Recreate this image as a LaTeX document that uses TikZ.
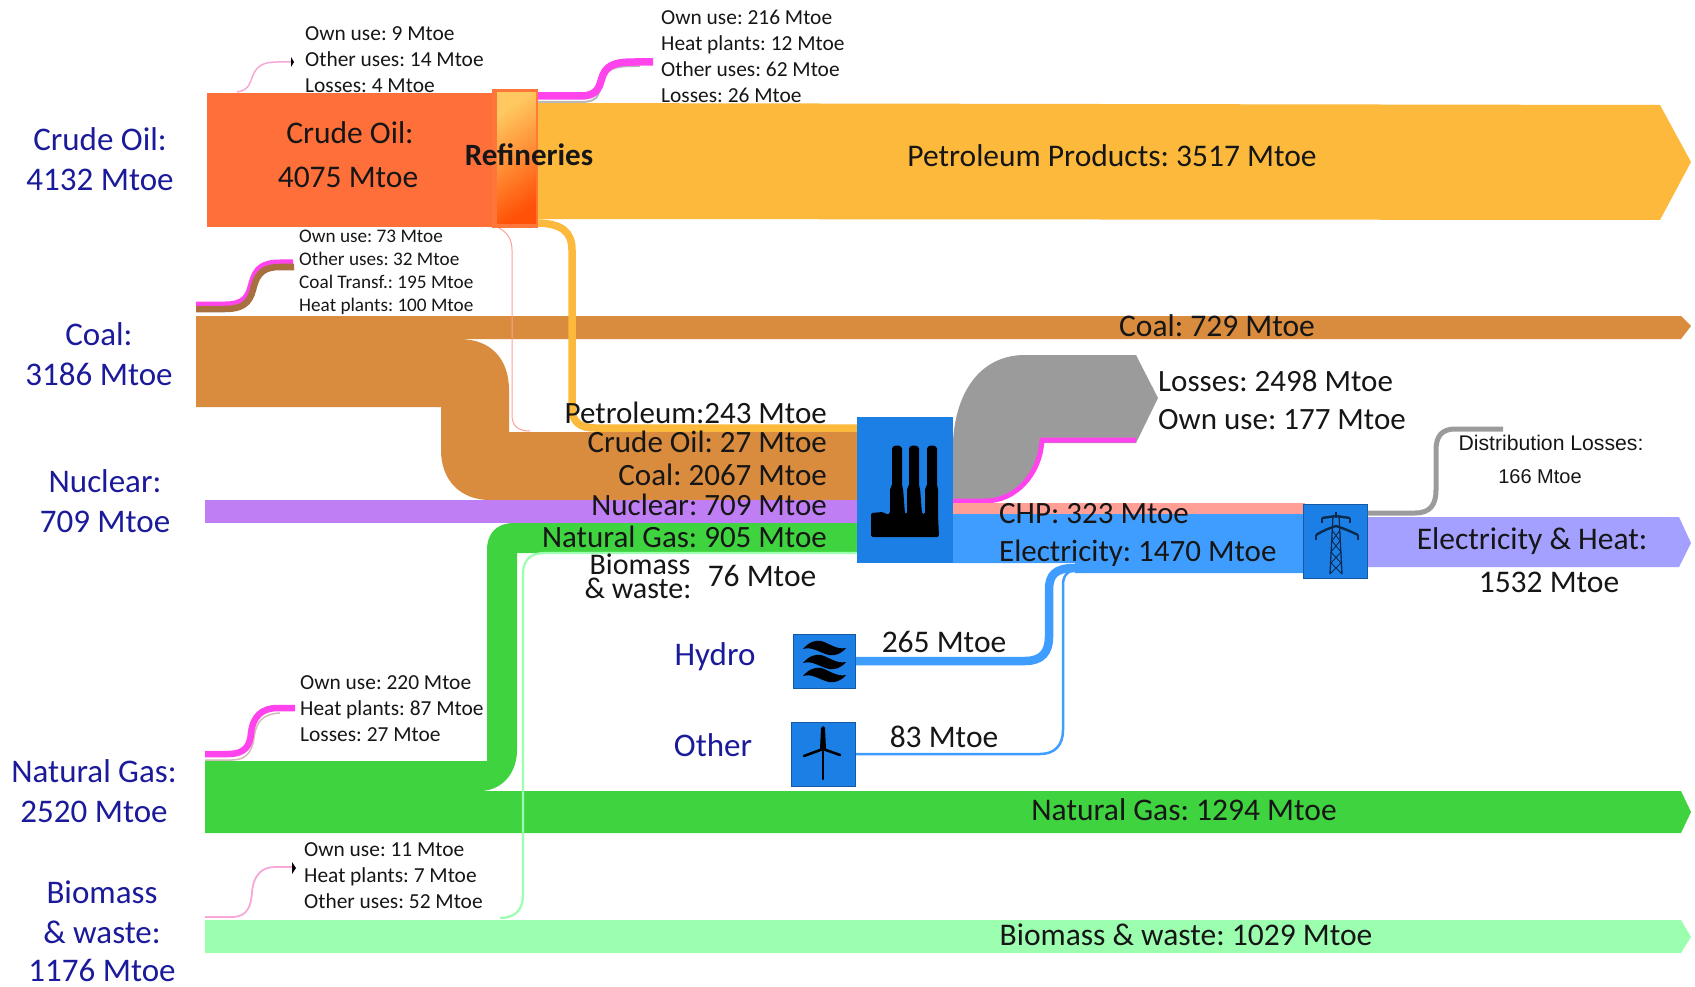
\documentclass[tikz,border=0pt]{standalone}
\usepackage{fontspec}
\setmainfont{Carlito}
\newfontfamily\arialf{Liberation Sans}
\definecolor{crude}{HTML}{FF6F3A}
\definecolor{petro}{HTML}{FDB93C}
\definecolor{coal}{HTML}{D98B3E}
\definecolor{nuke}{HTML}{C07EF5}
\definecolor{gas}{HTML}{3FD43F}
\definecolor{bio}{HTML}{9CFFB0}
\definecolor{boxblue}{HTML}{1C7FE6}
\definecolor{elec}{HTML}{3F9DFF}
\definecolor{heat}{HTML}{A3A0FF}
\definecolor{chp}{HTML}{FF9F96}
\definecolor{magenta2}{HTML}{FF44EE}
\definecolor{greyf}{HTML}{9B9B9B}
\definecolor{navy2}{HTML}{1A1A9A}
\definecolor{ink}{HTML}{161616}
\definecolor{brown2}{HTML}{A8703E}
\definecolor{thinpink}{HTML}{F7A8D8}
\definecolor{pylonink}{HTML}{0C2A50}
\definecolor{refa}{HTML}{FFC860}
\definecolor{refb}{HTML}{FF9A38}
\definecolor{refc}{HTML}{FF5208}
\tikzset{
  srclabel/.style={anchor=mid,yshift=-8pt,text=navy2,font=\fontsize{33}{33}\selectfont,inner sep=0pt},
  flowlabel/.style={anchor=mid,yshift=-8pt,text=ink,font=\fontsize{31.5}{31.5}\selectfont,inner sep=0pt},
  midlabel/.style={anchor=mid east,yshift=-8pt,text=ink,font=\fontsize{31}{31}\selectfont,inner sep=0pt},
  sidelabel/.style={anchor=mid west,yshift=-8pt,text=ink,font=\fontsize{31}{31}\selectfont,inner sep=0pt},
  smalllabel/.style={anchor=mid west,yshift=-5.5pt,text=ink,font=\fontsize{21.4}{21.4}\selectfont,inner sep=0pt},
  tinylabel/.style={anchor=mid west,yshift=-5pt,text=ink,font=\fontsize{19.2}{19.2}\selectfont,inner sep=0pt},
  iconbox/.style={draw=boxblue!70!black,line width=0.8pt,fill=boxblue,inner sep=0pt,anchor=north west},
}
\begin{document}
\frenchspacing
\begin{tikzpicture}[x=1pt,y=-1pt]
\useasboundingbox (0,0) rectangle (1695,987);
% Petroleum products
\fill[petro] (538,103) -- (1660,105) -- (1691,162) -- (1660,220) -- (538,219) -- cycle;
% Coal bar
\fill[coal] (196,316) -- (1681,316) -- (1691,326) -- (1681,339) -- (196,339) -- cycle;
% Coal flow to plant
\fill[coal] (196,339) -- (459,339) .. controls (490,339) and (509,358) .. (509,390) -- (509,432) -- (860,432) -- (860,500) -- (490,500) .. controls (460,500) and (441,480) .. (441,450) -- (441,407) -- (196,407) -- cycle;
% Nuclear
\fill[nuke] (205,500) rectangle (860,523);
% Gas
\fill[gas] (205,761) -- (487,761) -- (487,550) .. controls (487,533) and (497,523) .. (514,523) -- (860,523) -- (860,553) -- (517,553) -- (517,750) .. controls (517,775) and (500,791) .. (480,791) -- (1681,791) -- (1691,812) -- (1681,833) -- (205,833) -- cycle;
% Biomass
\fill[bio] (205,920) -- (1681,920) -- (1691,937) -- (1681,953) -- (205,953) -- cycle;
\draw[bio,line width=2.2pt] (500,918) .. controls (515,918) and (523,910) .. (523,895) -- (523,575) .. controls (523,560) and (530,553) .. (545,553) -- (860,553);
% Thin crude line
\draw[chp,line width=1pt] (497,227) .. controls (508,232) and (512,240) .. (512,250) -- (512,415) .. controls (512,426) and (518,431) .. (530,431);
% Petroleum to plant
\draw[petro,line width=7.5pt] (535,223) .. controls (562,223) and (572,232) .. (572,250) -- (572,408) .. controls (572,422) and (580,428) .. (595,428) -- (860,428);
\fill[crude] (207,93) rectangle (497,227);
% Refinery
\node[draw=none,fill=crude!90!petro,minimum width=46pt,minimum height=139pt,inner sep=0pt] (refinery) at (515,158.5) {};
\path[shading=axis,left color=refa,middle color=refb,right color=refc,shading angle=35] (497,93) rectangle (536,224);
% magenta top
\draw[gray!55,line width=2pt] (538,102) -- (580,102) .. controls (603,102) and (597,92) .. (603,78) .. controls (608,66) and (622,66) .. (640,66);
\draw[magenta2,line width=7.5pt] (538,96) -- (580,96) .. controls (600,96) and (599,85) .. (603,75) .. controls (608,63) and (620,62) .. (635,62) -- (653,62);
% thin crude use
\draw[thinpink,line width=1.5pt] (237,92) .. controls (250,90) and (250,82) .. (253,75) .. controls (258,63) and (268,62) .. (278,62) -- (292,62);
\fill[black] (291,57) -- (294,62) -- (291,67) -- cycle;
% coal use
\draw[magenta2,line width=5pt] (196,304) -- (225,304) .. controls (245,304) and (248,295) .. (251,283) .. controls (255,268) and (262,262) .. (280,262) -- (293,262);
\draw[brown2,line width=6.5pt] (196,309) -- (225,309) .. controls (248,309) and (251,298) .. (254,286) .. controls (258,272) and (265,267) .. (280,267) -- (294,267);
% gas use
\draw[chp!40!gray!60,line width=1.5pt] (205,760) -- (232,760) .. controls (246,760) and (252,752) .. (254,738) .. controls (256,722) and (262,714) .. (280,713);
\draw[magenta2,line width=6.5pt] (205,754) -- (228,754) .. controls (246,754) and (250,745) .. (251,733) .. controls (253,716) and (262,708) .. (278,708) -- (295,708);
% biomass use
\draw[thinpink,line width=1.8pt] (205,917) -- (232,917) .. controls (248,917) and (251,905) .. (252,893) .. controls (253,875) and (262,867) .. (275,867) -- (292,867);
\fill[black] (292,862) -- (296,868) -- (292,874) -- cycle;
% Grey losses
\fill[greyf] (953,502) -- (953,440) .. controls (957,385) and (985,355) .. (1025,355) -- (1136,355) -- (1158,398) -- (1136,443) -- (1042,443) .. controls (1040,475) and (1015,500) .. (985,500) -- cycle;
\draw[magenta2,line width=5pt] (1136,440) -- (1042,440) .. controls (1040,475) and (1015,501) .. (985,501) -- (953,501);
% CHP and electricity
\fill[chp] (953,503) rectangle (1305,514);
\fill[elec] (953,514) -- (1305,514) -- (1305,573) -- (1075,573) -- (1075,563) -- (953,563) -- cycle;
% Heat arrow
\fill[heat] (1367,517) -- (1679,517) -- (1691,543) -- (1679,567) -- (1367,567) -- cycle;
% Icon boxes
\node[iconbox,minimum width=96pt,minimum height=146pt,draw=none] (plant) at (857,417) {};
\node[iconbox,minimum width=62pt,minimum height=54pt] (hydrobox) at (793,634) {};
\node[iconbox,minimum width=64pt,minimum height=64pt] (otherbox) at (791,722) {};
\node[iconbox,minimum width=64pt,minimum height=74pt] (pylonbox) at (1303,504) {};
% Hydro and other connectors
\draw[elec,line width=8.5pt] (hydrobox.east |- 0,661) -- (1025,661) .. controls (1042,661) and (1049,652) .. (1049,637) -- (1049,590) .. controls (1049,575) and (1055,568) .. (1075,568);
\draw[elec,line width=2.5pt] (otherbox.east |- 0,754) -- (1040,754) .. controls (1055,754) and (1063,745) .. (1063,730) -- (1063,585) .. controls (1063,575) and (1068,570) .. (1078,570);
% Distribution
\draw[greyf,line width=5pt] (pylonbox.east |- 0,513) -- (1415,513) .. controls (1430,513) and (1436,505) .. (1436,490) -- (1436,450) .. controls (1436,436) and (1442,429) .. (1455,429) -- (1503,429);
% Plant icon
\fill[black,rounded corners=1.5pt] (871,537) -- (871,513) -- (883,512) -- (888,515) -- (890,513) -- (890,488) -- (892,486) -- (892,447) -- (897,445) -- (902,447) -- (902,486) -- (903,488) -- (905,514) -- (907,514) -- (907,488) -- (909,486) -- (909,447) -- (914,445) -- (919,447) -- (919,486) -- (920,488) -- (922,514) -- (925,514) -- (925,488) -- (927,486) -- (927,447) -- (932,445) -- (937,447) -- (937,486) -- (938,488) -- (938,514) -- (939,537) -- cycle;
% Waves icon
\foreach \dy in {0,14,27}{
  \fill[black,yshift=-\dy pt] (803,649) .. controls (809,642) and (815,640) .. (821,641) .. controls (829,643) and (836,650) .. (846,648) .. controls (841,654) and (835,656) .. (829,655) .. controls (820,653) and (812,646) .. (803,649) -- cycle;
}
% Turbine icon
\fill[black] (820,749) -- (821,728) -- (823,726) -- (825,728) -- (826,749) -- cycle;
\draw[black,line width=2.5pt,line cap=round] (823,748) -- (823,779);
\draw[black,line width=2.6pt,line cap=round] (823,749) -- (804,756);
\draw[black,line width=2.6pt,line cap=round] (823,749) -- (840,755);
% Pylon icon
\begin{scope}[pylonink,line width=1.3pt]
\draw (1333,516) -- (1330,574) (1339,516) -- (1342,574);
\draw (1336,512) -- (1336,518);
\draw[line width=2.4pt] (1322,518) -- (1336,516) -- (1350,518);
\draw[line width=2.4pt] (1316,535) .. controls (1324,530) and (1330,528) .. (1336,526) .. controls (1342,528) and (1348,530) .. (1358,535);
\draw[line width=1.8pt] (1322,518) -- (1322,523) (1350,518) -- (1350,523) (1316,535) -- (1316,540) (1358,535) -- (1358,540);
\draw[line width=0.9pt] (1332,530) -- (1340,541) -- (1331,552) -- (1341,563) -- (1330,574) (1340,530) -- (1332,541) -- (1341,552) -- (1331,563) -- (1342,574);
\end{scope}
% Source labels
\node[srclabel] (l1) at (100,140) {Crude Oil:};
\node[srclabel] (l2) at (100,180) {4132 Mtoe};
\node[srclabel] (l3) at (99,335) {Coal:};
\node[srclabel] (l4) at (99,375) {3186 Mtoe};
\node[srclabel] (l5) at (105,482) {Nuclear:};
\node[srclabel] (l6) at (105,522) {709 Mtoe};
\node[srclabel] (l7) at (94,772) {Natural Gas:};
\node[srclabel] (l8) at (94,812) {2520 Mtoe};
\node[srclabel] (l9) at (102,893) {Biomass};
\node[srclabel] (l10) at (102,933) {\& waste:};
\node[srclabel] (l11) at (102,971) {1176 Mtoe};
\node[srclabel] (l12) at (715,655) {Hydro};
\node[srclabel] (l13) at (713,746) {Other};
% Flow labels
\node[flowlabel] (f1) at (350,133) {Crude Oil:};
\node[flowlabel] (f2) at (348,177) {4075 Mtoe};
\node[flowlabel,font=\fontsize{31}{31}\selectfont\bfseries] (f3) at (529,155) {Refineries};
\node[flowlabel] (f4) at (1112,156) {Petroleum Products: 3517 Mtoe};
\node[flowlabel] (f5) at (1217,326) {Coal: 729 Mtoe};
\node[flowlabel] (f6) at (1184,810) {Natural Gas: 1294 Mtoe};
\node[flowlabel] (f7) at (1186,935) {Biomass \& waste: 1029 Mtoe};
\node[flowlabel] (f8) at (1532,539) {Electricity \& Heat:};
\node[flowlabel] (f9) at (1549,582) {1532 Mtoe};
\node[flowlabel] (f10) at (944,642) {265 Mtoe};
\node[flowlabel] (f11) at (944,737) {83 Mtoe};
\node[sidelabel] (s1) at (1158,381) {Losses: 2498 Mtoe};
\node[sidelabel] (s2) at (1158,419) {Own use: 177 Mtoe};
\node[sidelabel] (s3) at (999,513) {CHP: 323 Mtoe};
\node[sidelabel] (s4) at (999,551) {Electricity: 1470 Mtoe};
\node[midlabel] (m1) at (827,413) {Petroleum:243 Mtoe};
\node[midlabel] (m2) at (827,442) {Crude Oil: 27 Mtoe};
\node[midlabel] (m3) at (827,475) {Coal: 2067 Mtoe};
\node[midlabel] (m4) at (827,505) {Nuclear: 709 Mtoe};
\node[midlabel] (m5) at (827,537) {Natural Gas: 905 Mtoe};
\node[flowlabel,font=\fontsize{30}{30}\selectfont] (m6) at (640,564) {Biomass};
\node[flowlabel,font=\fontsize{30}{30}\selectfont] (m7) at (638,588) {\& waste:};
\node[flowlabel] (m8) at (762,576) {76 Mtoe};
% Distribution losses
\node[anchor=mid,yshift=-5pt,text=ink,inner sep=0pt,font=\arialf\fontsize{21.2}{21.2}\selectfont] (d1) at (1551,443) {Distribution Losses:};
\node[anchor=mid,yshift=-5pt,text=ink,inner sep=0pt,font=\arialf\fontsize{20}{20}\selectfont] (d2) at (1540,476) {166 Mtoe};
% Small lists
\node[smalllabel] (a1) at (305,33) {Own use: 9 Mtoe};
\node[smalllabel] (a2) at (305,59) {Other uses: 14 Mtoe};
\node[smalllabel] (a3) at (305,85) {Losses: 4 Mtoe};
\node[smalllabel] (b1) at (661,17) {Own use: 216 Mtoe};
\node[smalllabel] (b2) at (661,43) {Heat plants: 12 Mtoe};
\node[smalllabel] (b3) at (661,69) {Other uses: 62 Mtoe};
\node[smalllabel] (b4) at (661,95) {Losses: 26 Mtoe};
\node[tinylabel] (c1) at (299,235) {Own use: 73 Mtoe};
\node[tinylabel] (c2) at (299,258) {Other uses: 32 Mtoe};
\node[tinylabel] (c3) at (299,281) {Coal Transf.: 195 Mtoe};
\node[tinylabel] (c4) at (299,304) {Heat plants: 100 Mtoe};
\node[smalllabel] (g1) at (300,682) {Own use: 220 Mtoe};
\node[smalllabel] (g2) at (300,708) {Heat plants: 87 Mtoe};
\node[smalllabel] (g3) at (300,734) {Losses: 27 Mtoe};
\node[smalllabel] (h1) at (304,849) {Own use: 11 Mtoe};
\node[smalllabel] (h2) at (304,875) {Heat plants: 7 Mtoe};
\node[smalllabel] (h3) at (304,901) {Other uses: 52 Mtoe};
\end{tikzpicture}
\end{document}
